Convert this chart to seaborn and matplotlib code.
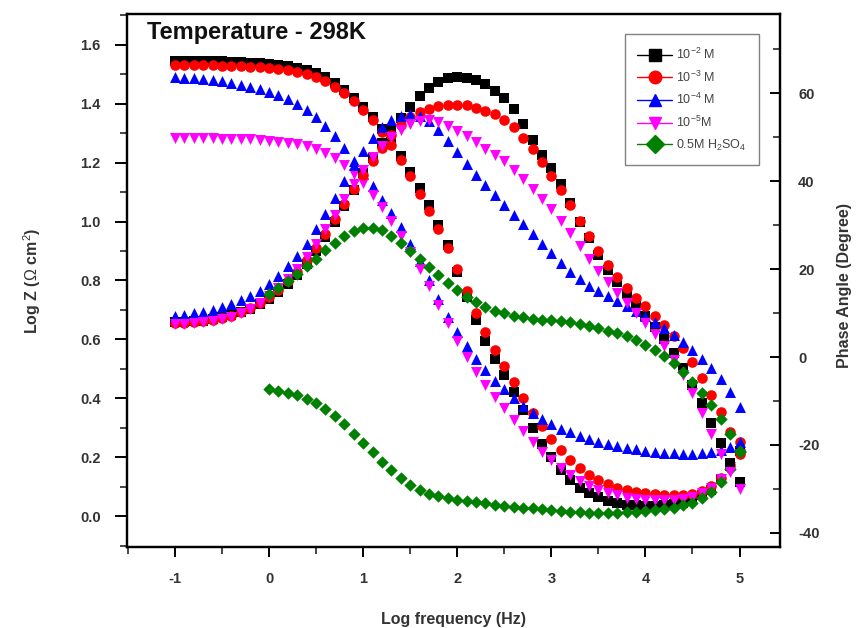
import numpy as np
import pandas as pd
import seaborn as sns
import matplotlib.pyplot as plt
from matplotlib.lines import Line2D
from matplotlib.ticker import MultipleLocator, FormatStrFormatter

# -----------------------------
# Data
# -----------------------------
log_freq = [-1.0, -0.9, -0.8, -0.7, -0.6, -0.5, -0.4, -0.3, -0.2, -0.1,
            0.0, 0.1, 0.2, 0.3, 0.4, 0.5, 0.6, 0.7, 0.8, 0.9,
            1.0, 1.1, 1.2, 1.3, 1.4, 1.5, 1.6, 1.7, 1.8, 1.9,
            2.0, 2.1, 2.2, 2.3, 2.4, 2.5, 2.6, 2.7, 2.8, 2.9,
            3.0, 3.1, 3.2, 3.3, 3.4, 3.5, 3.6, 3.7, 3.8, 3.9,
            4.0, 4.1, 4.2, 4.3, 4.4, 4.5, 4.6, 4.7, 4.8, 4.9, 5.0]
# blank (0.5M H2SO4) was only measured from 1 Hz
log_freq_blank = log_freq[10:]

series = ['10$^{-2}$ M', '10$^{-3}$ M', '10$^{-4}$ M', '10$^{-5}$M', '0.5M H$_2$SO$_4$']

# Log Z (left axis)
z_1e2 = [1.545, 1.545, 1.545, 1.545, 1.545, 1.544, 1.543, 1.542, 1.540, 1.538,
         1.535, 1.532, 1.528, 1.522, 1.514, 1.504, 1.490, 1.470, 1.447, 1.420,
         1.390, 1.355, 1.315, 1.270, 1.222, 1.170, 1.115, 1.055, 0.990, 0.920,
         0.830, 0.745, 0.665, 0.595, 0.535, 0.478, 0.420, 0.360, 0.300, 0.245,
         0.200, 0.158, 0.123, 0.097, 0.078, 0.064, 0.052, 0.044, 0.039, 0.036,
         0.035, 0.035, 0.037, 0.040, 0.046, 0.055, 0.070, 0.090, 0.125, 0.170, 0.220]
z_1e3 = [1.532, 1.532, 1.532, 1.531, 1.531, 1.530, 1.529, 1.528, 1.526, 1.524,
         1.521, 1.518, 1.514, 1.508, 1.500, 1.490, 1.476, 1.458, 1.436, 1.410,
         1.380, 1.345, 1.305, 1.260, 1.210, 1.155, 1.095, 1.035, 0.975, 0.910,
         0.840, 0.765, 0.690, 0.625, 0.565, 0.508, 0.455, 0.400, 0.350, 0.305,
         0.262, 0.223, 0.190, 0.163, 0.140, 0.122, 0.108, 0.097, 0.089, 0.083,
         0.078, 0.074, 0.071, 0.070, 0.071, 0.076, 0.086, 0.103, 0.130, 0.175, 0.250]
z_1e4 = [1.490, 1.488, 1.486, 1.483, 1.480, 1.476, 1.471, 1.465, 1.458, 1.450,
         1.440, 1.430, 1.418, 1.400, 1.380, 1.355, 1.325, 1.290, 1.250, 1.205,
         1.160, 1.120, 1.075, 1.030, 0.980, 0.925, 0.865, 0.800, 0.737, 0.677,
         0.625, 0.578, 0.535, 0.495, 0.460, 0.430, 0.400, 0.375, 0.350, 0.330,
         0.312, 0.297, 0.284, 0.272, 0.262, 0.253, 0.245, 0.238, 0.232, 0.227,
         0.222, 0.218, 0.215, 0.213, 0.212, 0.212, 0.214, 0.218, 0.225, 0.236, 0.250]
z_1e5 = [1.284, 1.284, 1.284, 1.283, 1.283, 1.282, 1.281, 1.280, 1.279, 1.277,
         1.275, 1.272, 1.268, 1.263, 1.256, 1.246, 1.233, 1.215, 1.192, 1.163,
         1.130, 1.092, 1.050, 1.003, 0.952, 0.898, 0.840, 0.780, 0.718, 0.655,
         0.595, 0.540, 0.490, 0.445, 0.405, 0.366, 0.327, 0.288, 0.252, 0.219,
         0.190, 0.163, 0.140, 0.120, 0.103, 0.090, 0.079, 0.070, 0.063, 0.058,
         0.055, 0.053, 0.053, 0.055, 0.058, 0.065, 0.077, 0.096, 0.125, 0.165, 0.210]
z_blank = [0.430, 0.425, 0.418, 0.410, 0.398, 0.383, 0.363, 0.340, 0.312, 0.280,
           0.248, 0.216, 0.185, 0.155, 0.128, 0.106, 0.089, 0.076, 0.067, 0.060,
           0.055, 0.051, 0.047, 0.043, 0.039, 0.035, 0.032, 0.029, 0.026, 0.023,
           0.020, 0.017, 0.015, 0.013, 0.012, 0.011, 0.011, 0.012, 0.013, 0.015,
           0.017, 0.020, 0.024, 0.029, 0.036, 0.046, 0.060, 0.082, 0.115, 0.160, 0.220]

# Phase angle (right axis)
ph_1e2 = [8.0, 8.0, 8.1, 8.3, 8.6, 9.0, 9.5, 10.2, 11.0, 12.0,
          13.3, 14.8, 16.6, 18.7, 21.2, 24.0, 27.2, 30.7, 34.4, 38.0,
          41.8, 45.3, 48.7, 51.7, 54.4, 56.9, 59.3, 61.2, 62.6, 63.4,
          63.7, 63.5, 63.0, 62.0, 60.6, 58.8, 56.4, 53.0, 49.3, 46.0,
          43.0, 39.3, 35.0, 30.8, 27.0, 23.2, 19.9, 17.0, 14.4, 11.9,
          9.4, 6.8, 4.0, 1.0, -2.5, -6.3, -10.5, -15.0, -19.5, -24.0, -28.5]
ph_1e3 = [7.8, 7.8, 7.9, 8.1, 8.4, 8.8, 9.4, 10.2, 11.1, 12.3,
          13.7, 15.3, 17.2, 19.4, 22.0, 24.8, 28.0, 31.3, 34.8, 38.2,
          41.5, 44.6, 47.6, 50.4, 52.7, 54.5, 55.7, 56.5, 57.0, 57.3,
          57.4, 57.2, 56.7, 56.0, 55.3, 54.0, 52.2, 49.8, 47.2, 44.3,
          41.2, 38.0, 34.5, 31.0, 27.6, 24.2, 21.0, 18.2, 15.7, 13.5,
          11.5, 9.4, 7.2, 4.7, 2.0, -1.2, -4.8, -8.6, -12.6, -17.0, -22.0]
ph_1e4 = [9.4, 9.6, 9.9, 10.3, 10.8, 11.4, 12.1, 12.9, 13.9, 15.1,
          16.6, 18.4, 20.6, 23.0, 25.8, 29.0, 32.5, 36.2, 40.0, 43.6,
          46.9, 49.8, 52.2, 53.9, 54.9, 55.2, 54.9, 53.6, 51.6, 49.2,
          46.6, 44.0, 41.5, 39.1, 36.8, 34.6, 32.4, 30.2, 28.0, 25.8,
          23.6, 21.4, 19.4, 17.7, 16.2, 14.9, 13.8, 12.7, 11.6, 10.5,
          9.3, 8.0, 6.6, 5.0, 3.4, 1.6, -0.5, -2.6, -5.0, -8.0, -11.3]
ph_1e5 = [7.6, 7.6, 7.7, 7.9, 8.2, 8.6, 9.2, 10.0, 11.0, 12.3,
          13.8, 15.6, 17.7, 20.1, 22.8, 25.8, 29.0, 32.4, 35.9, 39.3,
          42.5, 45.4, 47.9, 50.0, 51.7, 52.9, 53.6, 53.8, 53.5, 52.6,
          51.5, 50.3, 48.9, 47.4, 46.0, 44.5, 42.5, 40.5, 38.3, 36.0,
          33.6, 31.0, 28.2, 25.3, 22.4, 19.6, 17.0, 14.5, 12.2, 10.0,
          7.7, 5.2, 2.5, -0.6, -4.2, -8.2, -12.8, -17.5, -22.0, -26.2, -30.0]
ph_blank = [14.3, 15.8, 17.3, 18.9, 20.6, 22.4, 24.3, 26.0, 27.5, 28.6,
            29.3, 29.4, 28.8, 27.6, 26.0, 24.2, 22.3, 20.4, 18.6, 16.9,
            15.2, 13.7, 12.4, 11.3, 10.5, 9.9, 9.4, 9.0, 8.7, 8.5,
            8.4, 8.2, 8.0, 7.6, 7.0, 6.5, 6.0, 5.4, 4.7, 3.8,
            2.7, 1.5, 0.2, -1.4, -3.4, -5.7, -8.2, -11.0, -14.0, -17.5, -21.5]

colors = ['black', '#ff0000', '#0000ff', '#ff00ff', '#008000']
markers = ['s', 'o', '^', 'v', 'D']
sizes = [50, 58, 62, 62, 40]

# -----------------------------
# Style
# -----------------------------
sns.set_theme(style='ticks')
plt.rcParams['font.family'] = ['Liberation Sans', 'DejaVu Sans']
plt.rcParams['mathtext.fontset'] = 'custom'
plt.rcParams['mathtext.rm'] = 'Liberation Sans'
plt.rcParams['mathtext.it'] = 'Liberation Sans:italic'
plt.rcParams['mathtext.bf'] = 'Liberation Sans:bold'
plt.rcParams['axes.unicode_minus'] = False

fig = plt.figure(figsize=(8.59, 6.28), dpi=100)
ax = fig.add_axes([0.1478, 0.129, 0.7602, 0.8487])
ax2 = ax.twinx()

xs = [log_freq, log_freq, log_freq, log_freq, log_freq_blank]
zs = [z_1e2, z_1e3, z_1e4, z_1e5, z_blank]
phs = [ph_1e2, ph_1e3, ph_1e4, ph_1e5, ph_blank]

for x, z, c, m, s in zip(xs, zs, colors, markers, sizes):
    df = pd.DataFrame({'logf': x, 'logz': z})
    sns.scatterplot(data=df, x='logf', y='logz', ax=ax, color=c, marker=m,
                    s=s, linewidth=0, legend=False)
for x, p, c, m, s in zip(xs, phs, colors, markers, sizes):
    df = pd.DataFrame({'logf': x, 'phase': p})
    sns.scatterplot(data=df, x='logf', y='phase', ax=ax2, color=c, marker=m,
                    s=s, linewidth=0, legend=False)

ax.set_xlim(-1.51, 5.43)
ax.set_ylim(-0.105, 1.705)
ax2.set_ylim(-43.2, 78)

ax.xaxis.set_major_locator(MultipleLocator(1))
ax.xaxis.set_minor_locator(MultipleLocator(0.5))
ax.yaxis.set_major_locator(MultipleLocator(0.2))
ax.yaxis.set_minor_locator(MultipleLocator(0.1))
ax.yaxis.set_major_formatter(FormatStrFormatter('%.1f'))
ax2.yaxis.set_major_locator(MultipleLocator(20))
ax2.yaxis.set_minor_locator(MultipleLocator(10))

tick_col = '#333333'
ax.tick_params(axis='x', which='major', direction='out', length=7, width=1.4, pad=11,
               labelsize=10.5, colors='black', labelcolor=tick_col, top=False)
ax.tick_params(axis='x', which='minor', direction='out', length=5, width=1.2, top=False)
ax.tick_params(axis='y', which='major', direction='out', length=9, width=1.4, pad=10,
               labelsize=10.5, colors='black', labelcolor=tick_col, right=False)
ax.tick_params(axis='y', which='minor', direction='out', length=5, width=1.2, right=False)
ax2.tick_params(axis='y', which='major', direction='in', length=7, width=1.4, pad=13,
                labelsize=10.5, colors='black', labelcolor=tick_col, left=False)
ax2.tick_params(axis='y', which='minor', direction='in', length=5, width=1.2, left=False)

for lbl in ax.get_xticklabels() + ax.get_yticklabels() + ax2.get_yticklabels():
    lbl.set_fontweight('bold')

for a in (ax, ax2):
    for sp in a.spines.values():
        sp.set_linewidth(1.6)
        sp.set_color('black')

ax.set_xlabel('Log frequency (Hz)', fontsize=11.5, fontweight='bold', color=tick_col)
ax.set_ylabel('Log Z ($\\Omega$ cm$^2$)', fontsize=11.5, fontweight='bold', color=tick_col)
ax2.set_ylabel('Phase Angle (Degree)', fontsize=11.5, fontweight='bold', color=tick_col)
ax.xaxis.set_label_coords(0.5, -0.122)
ax.yaxis.set_label_coords(-0.128, 0.5)
ax2.yaxis.set_label_coords(1.088, 0.49)

ax.text(0.031, 0.987, 'Temperature - 298K', transform=ax.transAxes, ha='left', va='top',
        fontsize=17, fontweight='bold', color='#111111')

handles = [Line2D([0], [0], color=c, marker=m, markersize=9, lw=1.0)
           for c, m in zip(colors, markers)]
leg = ax2.legend(handles, series, loc='upper right', bbox_to_anchor=(0.968, 0.962),
                 frameon=True, fancybox=False, edgecolor='#808080', framealpha=1,
                 fontsize=9, handlelength=2.8, handletextpad=0.3, labelspacing=0.6,
                 borderpad=1.0, borderaxespad=0)
leg.get_frame().set_linewidth(1.0)
for t in leg.get_texts():
    t.set_color('#444444')

fig.savefig('out.png', dpi=100)
